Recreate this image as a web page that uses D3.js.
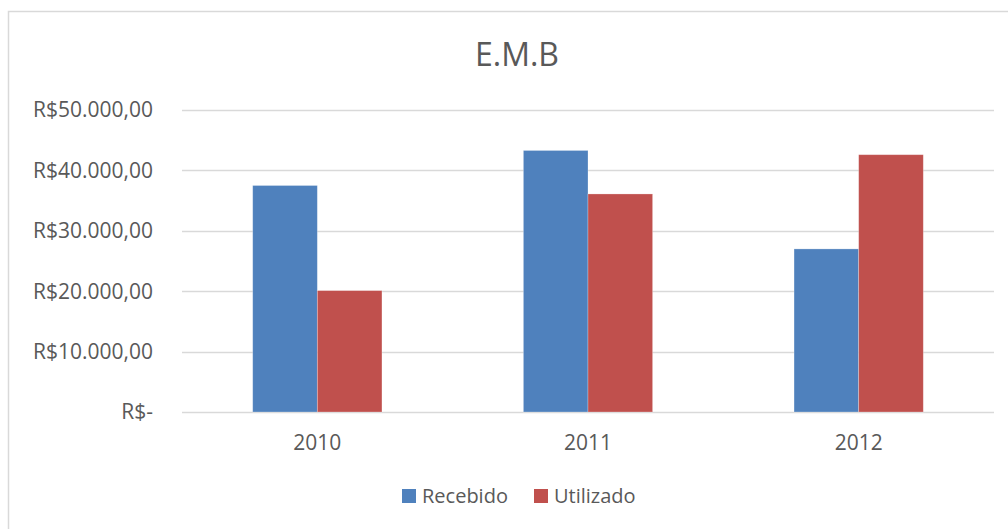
<!DOCTYPE html>
<html>
<head>
<meta charset="utf-8">
<script src="https://cdn.jsdelivr.net/npm/d3@7"></script>
<style>
  body { margin: 0; background: #fff; }
  text { font-family: 'Open Sans', sans-serif; fill: #595959; }
</style>
</head>
<body>
<div id="chart"></div>
<script>
const years = ['2010', '2011', '2012'];
const recebido = [37500, 43300, 27000];
const utilizado = [20100, 36100, 42600];
const seriesNames = ['Recebido', 'Utilizado'];
const seriesColors = ['#4f81bd', '#c0504d'];
const yTicks = [0, 10000, 20000, 30000, 40000, 50000];

const W = 1008, H = 529;
const margin = { top: 110, right: 14, bottom: 117, left: 182 };
const width = W - margin.left - margin.right;
const height = H - margin.top - margin.bottom;

const svg = d3.select('#chart').append('svg')
  .attr('width', W)
  .attr('height', H);

// chart frame
svg.append('rect')
  .attr('x', 8.5).attr('y', 11.5)
  .attr('width', W + 10).attr('height', H + 10)
  .attr('fill', '#fff')
  .attr('stroke', '#d9d9d9')
  .attr('stroke-width', 1.5);

const g = svg.append('g').attr('transform', `translate(${margin.left},${margin.top})`);

const x = d3.scaleBand().domain(years).range([0, width]).paddingInner(0.5225).paddingOuter(0.26125);
const x1 = d3.scaleBand().domain(seriesNames).range([0, x.bandwidth()]);
const y = d3.scaleLinear().domain([0, 50000]).range([height, 0]);

const fmt = (v) => v === 0 ? 'R$-' :
  'R$' + d3.format(',.2f')(v).replace(/,/g, '#').replace('.', ',').replace(/#/g, '.');

// gridlines
g.append('g')
  .selectAll('line')
  .data(yTicks)
  .join('line')
  .attr('x1', 0).attr('x2', width)
  .attr('y1', (d) => Math.round(y(d)) + 0.5)
  .attr('y2', (d) => Math.round(y(d)) + 0.5)
  .attr('stroke', '#d9d9d9')
  .attr('stroke-width', 1.3);

// y labels
g.append('g')
  .selectAll('text')
  .data(yTicks)
  .join('text')
  .attr('x', -29)
  .attr('y', (d) => y(d))
  .attr('dy', '0.35em')
  .attr('text-anchor', 'end')
  .style('font-size', '21px')
  .text(fmt);

// bars
const data = years.map((yr, i) => ({ year: yr, values: [recebido[i], utilizado[i]] }));
g.append('g')
  .selectAll('g')
  .data(data)
  .join('g')
  .attr('transform', (d) => `translate(${x(d.year)},0)`)
  .selectAll('rect')
  .data((d) => d.values.map((v, i) => ({ name: seriesNames[i], value: v, color: seriesColors[i] })))
  .join('rect')
  .attr('x', (d) => x1(d.name))
  .attr('y', (d) => y(d.value))
  .attr('width', x1.bandwidth())
  .attr('height', (d) => height - y(d.value))
  .attr('fill', (d) => d.color)
  .attr('stroke', '#fff')
  .attr('stroke-opacity', 0.35)
  .attr('stroke-width', 0.75);

// x labels
g.append('g')
  .selectAll('text')
  .data(years)
  .join('text')
  .attr('x', (d) => x(d) + x.bandwidth() / 2)
  .attr('y', height + 38)
  .attr('text-anchor', 'middle')
  .style('font-size', '21px')
  .text((d) => d);

// title
svg.append('text')
  .attr('x', 517)
  .attr('y', 66)
  .attr('text-anchor', 'middle')
  .style('font-size', '32px')
  .text('E.M.B');

// legend
const legend = svg.append('g').attr('transform', 'translate(402,496)');
const legendX = [0, 132];
seriesNames.forEach((name, i) => {
  const lg = legend.append('g').attr('transform', `translate(${legendX[i]},0)`);
  lg.append('rect')
    .attr('x', 0).attr('y', -7)
    .attr('width', 14).attr('height', 14)
    .attr('fill', seriesColors[i]);
  lg.append('text')
    .attr('x', 20).attr('y', 0)
    .attr('dy', '0.35em')
    .style('font-size', '20px')
    .text(name);
});
</script>
</body>
</html>
